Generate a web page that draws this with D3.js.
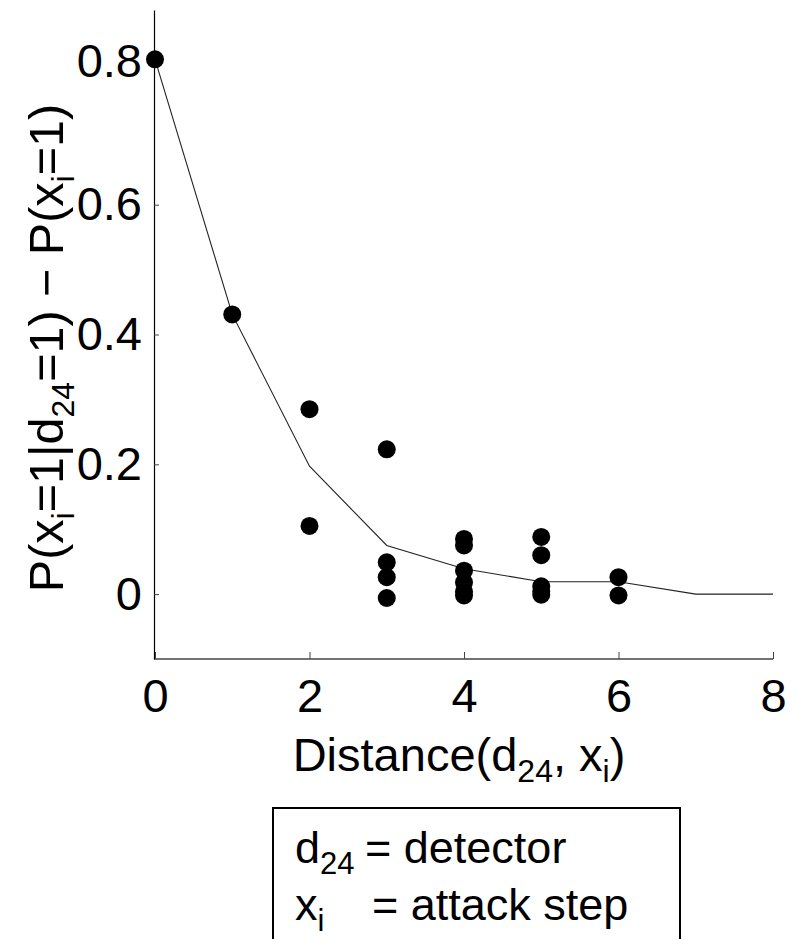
<!DOCTYPE html>
<html>
<head>
<meta charset="utf-8">
<script src="https://cdn.jsdelivr.net/npm/d3@7"></script>
<style>
  body { margin: 0; background: #fff; }
  svg { display: block; font-family: "Liberation Sans", Arial, sans-serif; }
</style>
</head>
<body>
<div id="chart"></div>
<script>
// distances and measured differences (scatter)
const pointX = [0, 1, 2, 2, 3, 3, 3, 3, 4, 4, 4, 4, 4, 4, 5, 5, 5, 5, 5, 6, 6];
const pointY = [0.824, 0.431, 0.285, 0.105, 0.223, 0.049, 0.026, -0.006,
                0.085, 0.075, 0.036, 0.018, 0.004, -0.002,
                0.088, 0.060, 0.012, 0.004, -0.001, 0.026, -0.002];

// mean curve
const lineX = [0, 1, 2, 3, 4, 5, 6, 7, 8];
const lineY = [0.824, 0.431, 0.197, 0.075, 0.039, 0.019, 0.019, 0.0, 0.0];

// ticks
const xTicks = [0, 2, 4, 6, 8];
const yTicks = [0, 0.2, 0.4, 0.6, 0.82];
const yTickLabels = ["0", "0.2", "0.4", "0.6", "0.8"];

const W = 799, H = 939;
const svg = d3.select("#chart").append("svg")
    .attr("width", W).attr("height", H);

const x = d3.scaleLinear().domain([0, 8]).range([155, 773]);
const y = d3.scaleLinear().domain([-0.1, 0.9]).range([659, 10]);

// axes
const xAxis = svg.append("g")
    .attr("transform", `translate(0,${y(-0.1)})`)
    .call(d3.axisBottom(x).tickValues(xTicks).tickSizeInner(-7).tickSizeOuter(0).tickPadding(20));
xAxis.select(".domain").attr("d", `M154,0H${x(8)}`).attr("stroke", "#444").attr("stroke-width", 1.6);
xAxis.selectAll(".tick line").attr("stroke", "#444");
xAxis.selectAll(".tick text").attr("font-size", 47).attr("fill", "#000").attr("dy", "0.71em");

const yAxis = svg.append("g")
    .attr("transform", "translate(154,0)")
    .call(d3.axisLeft(y).tickValues(yTicks).tickFormat((d, i) => yTickLabels[i])
      .tickSizeInner(-5).tickSizeOuter(0).tickPadding(12));
yAxis.select(".domain").attr("stroke", "#000").attr("stroke-width", 1.2);
yAxis.selectAll(".tick line").attr("stroke", "#444");
yAxis.selectAll(".tick text").attr("font-size", 47).attr("fill", "#000");

// line
svg.append("path")
    .datum(lineX.map((d, i) => [d, lineY[i]]))
    .attr("fill", "none")
    .attr("stroke", "#222")
    .attr("stroke-width", 1.1)
    .attr("d", d3.line().x(d => x(d[0])).y(d => y(d[1])));

// points
svg.append("g").selectAll("circle")
    .data(pointX.map((d, i) => [d, pointY[i]]))
    .join("circle")
    .attr("cx", d => x(d[0]))
    .attr("cy", d => y(d[1]))
    .attr("r", 9)
    .attr("fill", "#000");

// helper for text with subscripts
function richText(t, parts, big, small) {
  parts.forEach(p => {
    const s = t.append("tspan").text(p.t);
    if (p.sub) s.attr("font-size", small).attr("baseline-shift", "-0.35em");
    else s.attr("font-size", big);
    if (p.x != null) s.attr("x", p.x);
  });
}

// x label
const xl = svg.append("text")
    .attr("x", 459).attr("y", 771)
    .attr("text-anchor", "middle");
richText(xl, [
  {t: "Distance(d"}, {t: "24", sub: true}, {t: ", x"}, {t: "i", sub: true}, {t: ")"}
], 47, 32);

// y label
const yl = svg.append("text")
    .attr("transform", "translate(63,348) rotate(-90)")
    .attr("text-anchor", "middle");
richText(yl, [
  {t: "P(x"}, {t: "i", sub: true}, {t: "=1|d"}, {t: "24", sub: true},
  {t: "=1) \u2212 P(x"}, {t: "i", sub: true}, {t: "=1)"}
], 48.5, 32);

// legend box
svg.append("rect")
    .attr("x", 273).attr("y", 808)
    .attr("width", 407).attr("height", 200)
    .attr("fill", "#fff").attr("stroke", "#000").attr("stroke-width", 2);

const l1 = svg.append("text").attr("x", 295).attr("y", 863);
richText(l1, [{t: "d"}, {t: "24", sub: true}, {t: "= detector", x: 365}], 45, 31);
const l2 = svg.append("text").attr("x", 295).attr("y", 920);
richText(l2, [{t: "x"}, {t: "i", sub: true}, {t: "= attack step", x: 372}], 45, 31);
</script>
</body>
</html>
